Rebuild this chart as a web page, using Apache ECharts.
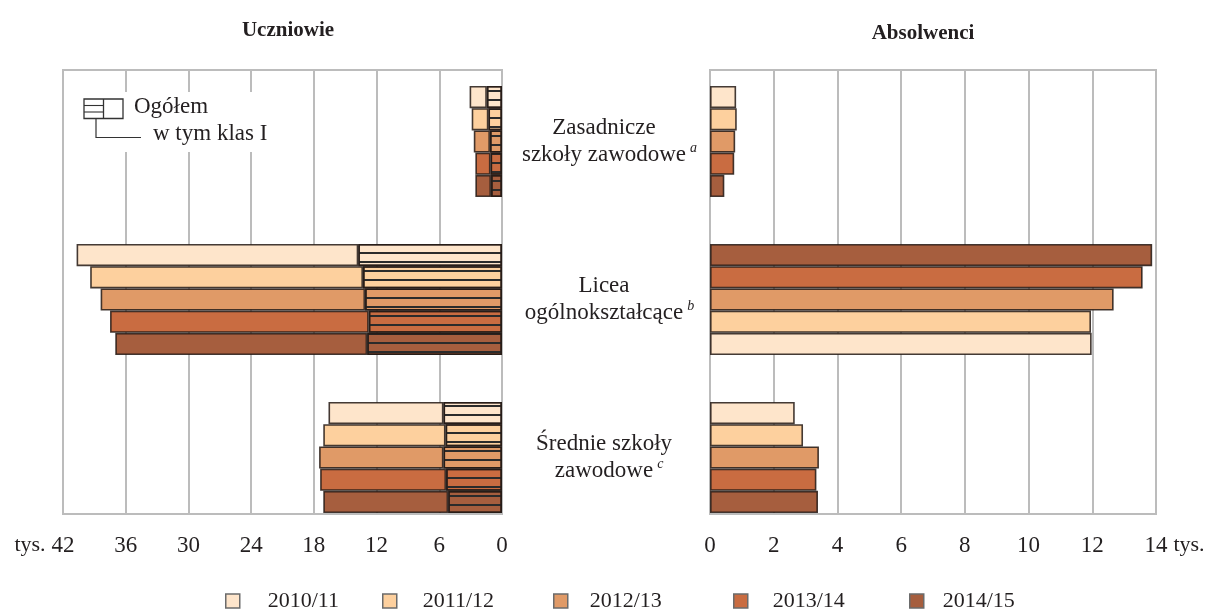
<!DOCTYPE html>
<html>
<head>
<meta charset="utf-8">
<script src="https://cdn.jsdelivr.net/npm/echarts@6/dist/echarts.min.js"></script>
<style>
    html, body { margin: 0; padding: 0; background: #fff; }
    #chart { width: 1210px; height: 612px; }
</style>
</head>
<body>
<div id="chart"></div>
<script>
    const years = ['2010/11', '2011/12', '2012/13', '2013/14', '2014/15'];
    const colors = ['#fee5cb', '#fdd09e', '#e09a67', '#c96c41', '#a65e3e'];
    const categories = ['Zasadnicze\nszkoły zawodowe', 'Licea\nogólnokształcące', 'Średnie szkoły\nzawodowe'];
    const footnotes = ['a', 'b', 'c'];

    // uczniowie ogółem, tys. [zasadnicze, licea, średnie]
    const pupils2010 = [3.1, 40.7, 16.6];
    const pupils2011 = [2.9, 39.4, 17.1];
    const pupils2012 = [2.7, 38.4, 17.5];
    const pupils2013 = [2.55, 37.5, 17.4];
    const pupils2014 = [2.55, 37.0, 17.1];

    // w tym klas I, tys.
    const firstClass2010 = [1.45, 13.75, 5.6];
    const firstClass2011 = [1.3, 13.3, 5.4];
    const firstClass2012 = [1.15, 13.1, 5.6];
    const firstClass2013 = [1.1, 12.75, 5.35];
    const firstClass2014 = [1.05, 12.9, 5.15];

    // absolwenci, tys.
    const graduates2010 = [0.82, 11.98, 2.66];
    const graduates2011 = [0.84, 11.96, 2.92];
    const graduates2012 = [0.79, 12.67, 3.42];
    const graduates2013 = [0.76, 13.58, 3.34];
    const graduates2014 = [0.45, 13.88, 3.39];

    const pupilsTicks = [0, 42, 6];     // min, max, interval
    const graduatesTicks = [0, 14, 2];

    const pupils = [pupils2010, pupils2011, pupils2012, pupils2013, pupils2014];
    const firstClass = [firstClass2010, firstClass2011, firstClass2012, firstClass2013, firstClass2014];
    const graduates = [graduates2010, graduates2011, graduates2012, graduates2013, graduates2014];

    const serif = '"Liberation Serif", "Times New Roman", serif';
    const ink = '#231f20';
    const gridColor = '#bcbcbc';
    const barBorder = 'rgba(35,25,20,0.85)';
    const barWidth = 22.2;

    const hatch = {
        symbol: 'rect',
        symbolSize: 1,
        dashArrayX: [1, 0],
        dashArrayY: [1.1, 6.3],
        rotation: 0,
        color: '#2b2b2b'
    };

    const chart = echarts.init(document.getElementById('chart'));

    const frameAxis = (idx, ticks, inverse, nameGap) => ({
        type: 'value',
        gridIndex: idx,
        min: ticks[0],
        max: ticks[1],
        interval: ticks[2],
        inverse: inverse,
        name: 'tys.',
        nameLocation: 'end',
        nameGap: nameGap,
        nameTextStyle: {fontFamily: serif, fontSize: 22, color: ink, verticalAlign: 'top', padding: [20, 0, 0, 0]},
        axisLine: {show: true, lineStyle: {color: gridColor, width: 2}},
        axisTick: {show: false},
        splitLine: {show: true, lineStyle: {color: gridColor, width: 2}},
        axisLabel: {fontFamily: serif, fontSize: 23, color: ink, margin: 20}
    });

    const barAxis = (idx, ticks, inverse) => ({
        type: 'value',
        gridIndex: idx,
        min: ticks[0],
        max: ticks[1],
        inverse: inverse,
        show: false
    });

    const series = [];
    // Uczniowie: klasy I (kreskowane) + reszta ogółem w jednym stosie
    for (let i = 0; i < years.length; i++) {
        series.push({
            name: years[i] + ' klasy I',
            type: 'bar',
            xAxisIndex: 1,
            yAxisIndex: 1,
            stack: 'u' + i,
            barWidth: barWidth,
            barGap: 0,
            data: firstClass[i],
            itemStyle: {color: colors[i], borderColor: barBorder, borderWidth: 1.6, decal: hatch}
        });
        series.push({
            name: years[i],
            type: 'bar',
            xAxisIndex: 1,
            yAxisIndex: 1,
            stack: 'u' + i,
            barWidth: barWidth,
            barGap: 0,
            data: pupils[i].map((v, k) => +(v - firstClass[i][k]).toFixed(2)),
            itemStyle: {color: colors[i], borderColor: barBorder, borderWidth: 1.6}
        });
    }
    // Absolwenci: w liceach kolejność lat odwrócona (jak w oryginale)
    for (let i = 0; i < years.length; i++) {
        const j = years.length - 1 - i;
        series.push({
            name: years[i],
            type: 'bar',
            xAxisIndex: 3,
            yAxisIndex: 3,
            barWidth: barWidth,
            barGap: 0,
            data: [
                graduates[i][0],
                {value: graduates[j][1], itemStyle: {color: colors[j]}},
                graduates[i][2]
            ],
            itemStyle: {color: colors[i], borderColor: barBorder, borderWidth: 1.6}
        });
    }

    const legendLeft = [225, 382, 553, 733, 909];
    const legendTextPad = [23, 21, 17, 20, 14];
    const legends = years.map((y, i) => ({
        data: [y],
        left: legendLeft[i],
        top: 590,
        padding: 0,
        icon: 'rect',
        itemWidth: 14,
        itemHeight: 14,
        selectedMode: false,
        itemStyle: {borderColor: '#6b6b6b', borderWidth: 1.5},
        textStyle: {fontFamily: serif, fontSize: 22, color: ink, padding: [0, 0, 0, legendTextPad[i]]}
    }));

    const option = {
        animation: false,
        backgroundColor: '#fff',
        title: [
            {text: 'Uczniowie', left: 283, top: 15, textAlign: 'center',
                textStyle: {fontFamily: serif, fontSize: 21, fontWeight: 'bold', color: ink}},
            {text: 'Absolwenci', left: 918, top: 18, textAlign: 'center',
                textStyle: {fontFamily: serif, fontSize: 21, fontWeight: 'bold', color: ink}}
        ],
        legend: legends,
        grid: [
            {left: 63, right: 708, top: 70, bottom: 98, show: true, borderColor: gridColor, borderWidth: 2},
            {left: 63, right: 708, top: 62.5, bottom: 75.5},
            {left: 710, right: 54, top: 70, bottom: 98, show: true, borderColor: gridColor, borderWidth: 2},
            {left: 710, right: 54, top: 62.5, bottom: 75.5}
        ],
        xAxis: [
            frameAxis(0, pupilsTicks, true, 16),
            barAxis(1, pupilsTicks, true),
            frameAxis(2, graduatesTicks, false, 16),
            barAxis(3, graduatesTicks, false)
        ],
        yAxis: [
            {type: 'value', gridIndex: 0, min: 0, max: 1, show: false},
            {type: 'category', gridIndex: 1, data: categories, inverse: true, show: false},
            {type: 'value', gridIndex: 2, min: 0, max: 1, show: false},
            {
                type: 'category',
                gridIndex: 3,
                data: categories,
                inverse: true,
                axisLine: {show: false},
                axisTick: {show: false},
                axisLabel: {
                    interval: 0,
                    margin: 106,
                    align: 'center',
                    formatter: function (value, index) {
                        const lines = value.split('\n');
                        const last = lines.length - 1;
                        return lines.map((l, k) => k === last
                            ? '{h|' + footnotes[index] + '}{n|' + l + '}{s|' + footnotes[index] + '}'
                            : '{n|' + l + '}').join('\n');
                    },
                    rich: {
                        n: {fontFamily: serif, fontSize: 23, color: ink, lineHeight: 27},
                        s: {fontFamily: serif, fontSize: 14, fontStyle: 'italic', color: ink, verticalAlign: 'top', padding: [0, 0, 0, 4]},
                        h: {fontFamily: serif, fontSize: 14, fontStyle: 'italic', color: 'transparent', verticalAlign: 'top', padding: [0, 4, 0, 0]}
                    }
                }
            }
        ],
        graphic: [
            {type: 'rect', z: 100, shape: {x: 70, y: 92, width: 215, height: 60}, style: {fill: '#fff'}},
            {type: 'rect', z: 101, shape: {x: 84, y: 99, width: 39, height: 19.5}, style: {fill: '#fff', stroke: '#333', lineWidth: 1.3}},
            {type: 'line', z: 101, shape: {x1: 103.5, y1: 99, x2: 103.5, y2: 118.5}, style: {stroke: '#333', lineWidth: 1.3}},
            {type: 'line', z: 101, shape: {x1: 84, y1: 105.5, x2: 103.5, y2: 105.5}, style: {stroke: '#333', lineWidth: 1.1}},
            {type: 'line', z: 101, shape: {x1: 84, y1: 112, x2: 103.5, y2: 112}, style: {stroke: '#333', lineWidth: 1.1}},
            {type: 'polyline', z: 101, shape: {points: [[96, 118.5], [96, 137.5], [141, 137.5]]}, style: {stroke: '#333', lineWidth: 1.2, fill: null}},
            {type: 'text', z: 101, x: 134, y: 107, style: {text: 'Ogółem', font: '23px ' + serif, fill: ink, verticalAlign: 'middle'}},
            {type: 'text', z: 101, x: 153, y: 134, style: {text: 'w tym klas I', font: '23px ' + serif, fill: ink, verticalAlign: 'middle'}}
        ],
        series: series
    };

    chart.setOption(option);
</script>
</body>
</html>
